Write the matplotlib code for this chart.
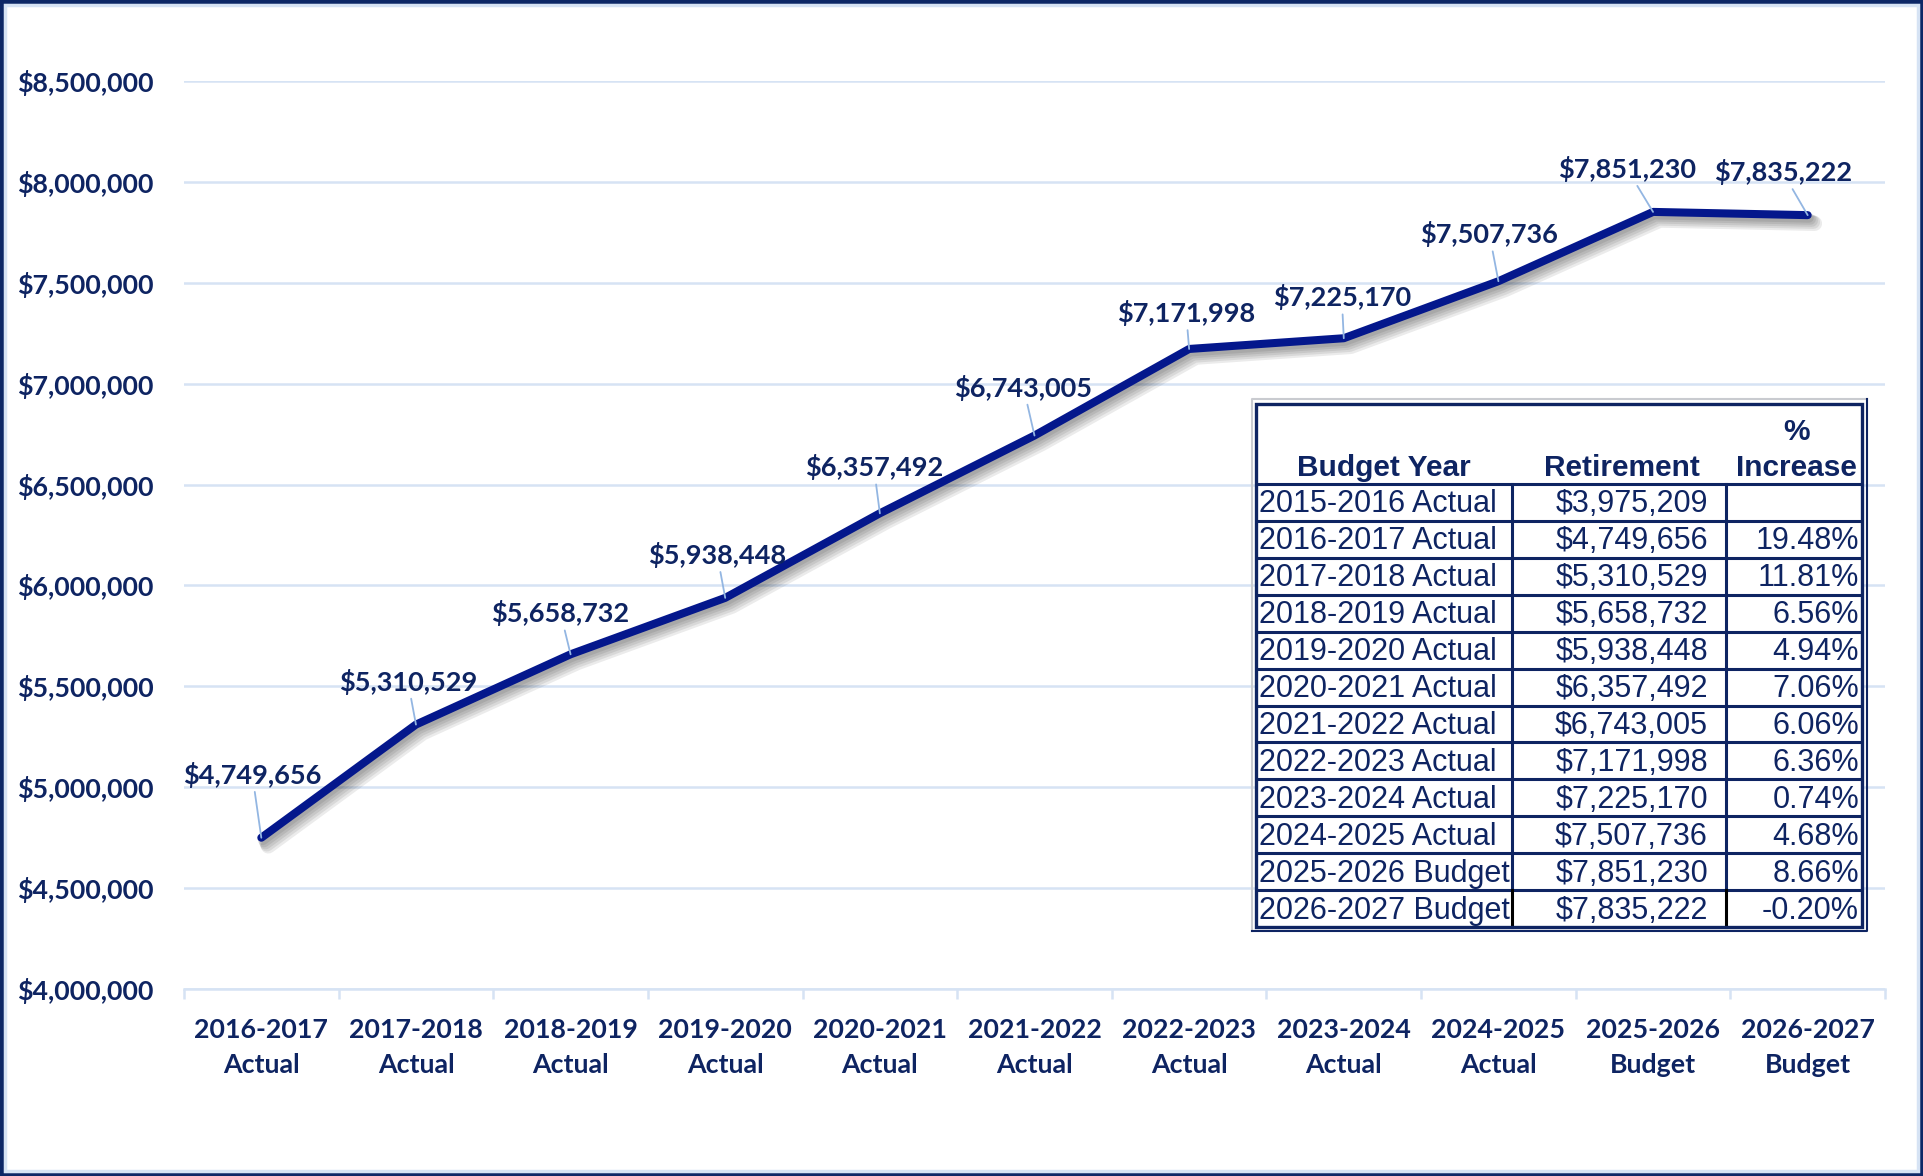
import matplotlib.pyplot as plt
import matplotlib.patheffects as pe
from matplotlib.patches import Rectangle
from matplotlib.ticker import FuncFormatter

# retirement cost per budget year
years = ["2016-2017", "2017-2018", "2018-2019", "2019-2020", "2020-2021",
         "2021-2022", "2022-2023", "2023-2024", "2024-2025", "2025-2026",
         "2026-2027"]
kinds = ["Actual"] * 9 + ["Budget"] * 2
retirement = [4749656, 5310529, 5658732, 5938448, 6357492, 6743005,
              7171998, 7225170, 7507736, 7851230, 7835222]

# summary table
table_years = ["2015-2016 Actual", "2016-2017 Actual", "2017-2018 Actual",
               "2018-2019 Actual", "2019-2020 Actual", "2020-2021 Actual",
               "2021-2022 Actual", "2022-2023 Actual", "2023-2024 Actual",
               "2024-2025 Actual", "2025-2026 Budget", "2026-2027 Budget"]
table_retirement = [3975209] + retirement
table_increase = [None, 19.48, 11.81, 6.56, 4.94, 7.06, 6.06, 6.36, 0.74,
                  4.68, 8.66, -0.20]

NAVY = "#0E2462"
LINE = "#04178C"
GRID = "#D6E3F4"
LEADER = "#93B6E2"
FONT = "Lato"
TFONT = "Liberation Sans"

W, H = 1923, 1176
fig = plt.figure(figsize=(W / 100, H / 100), dpi=100)


def box(l, t, r, b):
    return [l / W, 1 - b / H, (r - l) / W, (b - t) / H]


ax = fig.add_axes(box(184, 81, 1885, 989))
x = list(range(len(retirement)))
ax.set_xlim(-0.5, len(x) - 0.5)
ax.set_ylim(4_000_000, 8_500_000)
ax.set_yticks(range(4_000_000, 8_500_001, 500_000))
ax.yaxis.set_major_formatter(FuncFormatter(lambda v, _: f"${v:,.0f}"))
ax.grid(axis="y", color=GRID, lw=1.8)
ax.set_axisbelow(True)
for s in ["top", "right", "left"]:
    ax.spines[s].set_visible(False)
ax.spines["bottom"].set_color(GRID)
ax.spines["bottom"].set_linewidth(1.8)

ax.tick_params(axis="y", length=0, pad=120, labelsize=19.3, labelcolor=NAVY)
plt.setp(ax.get_yticklabels(), ha="left", fontfamily=FONT, fontweight="bold")

ax.set_xticks(x)
ax.set_xticklabels([f"{y}\n{k}" for y, k in zip(years, kinds)])
ax.set_xticks([i - 0.5 for i in range(len(x) + 1)], minor=True)
ax.tick_params(axis="x", which="major", length=0, pad=21, labelsize=19.3,
               labelcolor=NAVY)
ax.tick_params(axis="x", which="minor", length=7, width=1.8, color=GRID)
plt.setp(ax.get_xticklabels(), fontfamily=FONT, fontweight="bold",
         linespacing=1.55)

shadow = [pe.SimpleLineShadow(offset=(o, -o - 1), shadow_color="black",
                              alpha=0.08, linewidth=5.8 + o)
          for o in (1, 2, 3, 4, 5)]
ax.plot(x, retirement, color=LINE, lw=5.8, solid_capstyle="round",
        solid_joinstyle="round", path_effects=shadow + [pe.Normal()],
        zorder=3)

label_offsets = [(-9, 63), (-8, 43), (-10, 41), (-8, 43), (-6, 46),
                 (-11, 48), (-3, 36), (-2, 41), (-9, 47), (-26, 43),
                 (-25, 43)]
for xi, v, off in zip(x, retirement, label_offsets):
    ax.annotate(f"${v:,.0f}", (xi, v), xytext=off, textcoords="offset pixels",
                ha="center", va="center", fontsize=19.5, fontweight="bold",
                fontfamily=FONT, color=NAVY, zorder=4,
                arrowprops=dict(arrowstyle="-", color=LEADER, lw=1.3,
                                shrinkA=1, shrinkB=0))

# table in pixel units, y going down
tab = fig.add_axes(box(1256, 404, 1862, 927))
tw, th = 606, 523
tab.set_xlim(0, tw)
tab.set_ylim(th, 0)
tab.axis("off")
tab.add_patch(Rectangle((0, 0), tw, th, facecolor="white", edgecolor="none",
                        zorder=0))
head_h = 80
row_h = (th - head_h) / len(table_years)
c1, c2 = 256, 470
lk = dict(color=NAVY, lw=2.2, solid_capstyle="butt", clip_on=False)

# outer double frame
tab.plot([-4, -4, tw + 5], [th + 4, -5, -5], color="#C9CBD0", lw=1.5,
         clip_on=False)
tab.plot([-4, tw + 5, tw + 5], [th + 4, th + 4, -5], color=NAVY, lw=1.5,
         clip_on=False)
tab.add_patch(Rectangle((0, 0), tw, th, fill=False, edgecolor=NAVY, lw=2.4,
                        clip_on=False, zorder=3))
for i in range(len(table_years)):
    y = head_h + i * row_h
    tab.plot([0, tw], [y, y], **lk)
    vc = "black" if i == len(table_years) - 1 else NAVY
    for cx in (c1, c2):
        tab.plot([cx, cx], [y, y + row_h], color=vc, lw=2.2, clip_on=False)

hk = dict(fontsize=21.5, fontweight="bold", fontfamily=TFONT, color=NAVY,
          ha="center", va="center")
tab.text(c1 / 2, 64, "Budget Year", **hk)
tab.text((c1 + c2) / 2 + 3, 64, "Retirement", **hk)
tab.text((c2 + tw) / 2 + 2, 28, "%", **hk)
tab.text((c2 + tw) / 2 + 2, 64, "Increase", **hk)

bk = dict(fontsize=22, fontfamily=TFONT, color=NAVY, va="center")
for i, (yr, r, p) in enumerate(zip(table_years, table_retirement,
                                   table_increase)):
    yc = head_h + (i + 0.5) * row_h + 2
    tab.text(3, yc, yr, ha="left", **bk)
    tab.text(c2 - 18, yc, f"${r:,.0f}", ha="right", **bk)
    if p is not None:
        tab.text(tw - 3, yc, f"{p:.2f}%", ha="right", **bk)

# chart border
fig.add_artist(Rectangle((0, 0), 1, 1, transform=fig.transFigure, fill=False,
                         edgecolor="#0D2766", lw=5))
fig.add_artist(Rectangle((5 / W, 5 / H), 1 - 10 / W, 1 - 10 / H,
                         transform=fig.transFigure, fill=False,
                         edgecolor=GRID, lw=2.5))

fig.savefig("out.png", dpi=100)
